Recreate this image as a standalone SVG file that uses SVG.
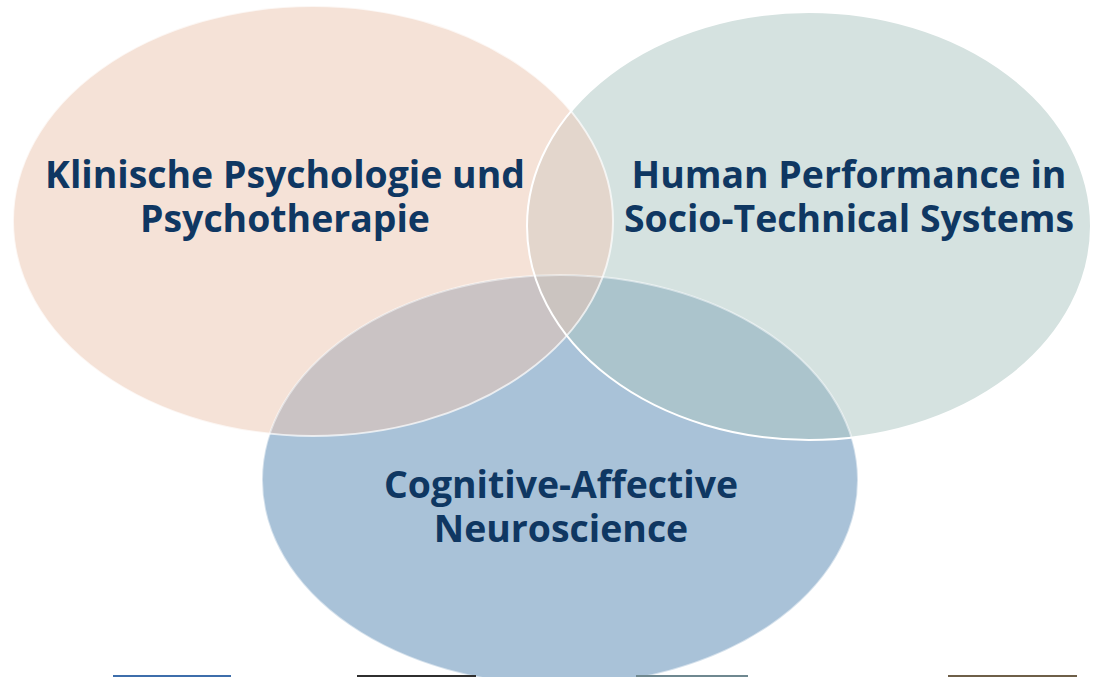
<svg xmlns="http://www.w3.org/2000/svg" width="1102" height="677" viewBox="0 0 1102 677">
<style>
.lbl{font-family:"Open Sans","Noto Sans","Liberation Sans",sans-serif;font-weight:700;font-size:37.4px;fill:#0f3762;text-anchor:middle}
.edge{fill:none;stroke:#ffffff;stroke-width:2}
</style>
<defs>
<ellipse id="eL" cx="313" cy="221" rx="300" ry="215"/>
<ellipse id="eR" cx="809" cy="226" rx="282" ry="214"/>
<ellipse id="eB" cx="560" cy="480" rx="298" ry="205"/>
<clipPath id="cL"><use href="#eL"/></clipPath>
<clipPath id="cR"><use href="#eR"/></clipPath>
<clipPath id="cB"><use href="#eB"/></clipPath>
</defs>
<rect width="1102" height="677" fill="#ffffff"/>
<g id="shapes">
<use href="#eL" fill="#f5e2d7"/>
<use href="#eR" fill="#d5e2e0"/>
<use href="#eB" fill="#a9c2d8"/>
<g clip-path="url(#cL)"><use href="#eR" fill="#e3d6cc"/></g>
<g clip-path="url(#cL)"><use href="#eB" fill="#cac3c4"/></g>
<g clip-path="url(#cR)"><use href="#eB" fill="#abc4cc"/></g>
<g clip-path="url(#cL)"><g clip-path="url(#cR)"><use href="#eB" fill="#cbc4c0"/></g></g>
<use href="#eL" class="edge" opacity="0.7"/>
<use href="#eR" class="edge"/>
<use href="#eB" class="edge" opacity="0.5"/>
</g>
<g id="node-klinische">
<text class="lbl" x="285" y="188">Klinische Psychologie und</text>
<text class="lbl" x="285" y="232">Psychotherapie</text>
</g>
<g id="node-human">
<text class="lbl" x="849" y="188">Human Performance in</text>
<text class="lbl" x="849" y="232">Socio-Technical Systems</text>
</g>
<g id="node-cognitive">
<text class="lbl" x="561" y="498">Cognitive-Affective</text>
<text class="lbl" x="561" y="542">Neuroscience</text>
</g>
<g id="connectors"/>
<g id="bars">
<rect x="113" y="675" width="118" height="2" fill="#3d6eab"/>
<rect x="357" y="675" width="119" height="2" fill="#2f2f2f"/>
<rect x="636" y="675" width="112" height="2" fill="#6f8890"/>
<rect x="948" y="675" width="129" height="2" fill="#6e5f48"/>
</g>
</svg>
